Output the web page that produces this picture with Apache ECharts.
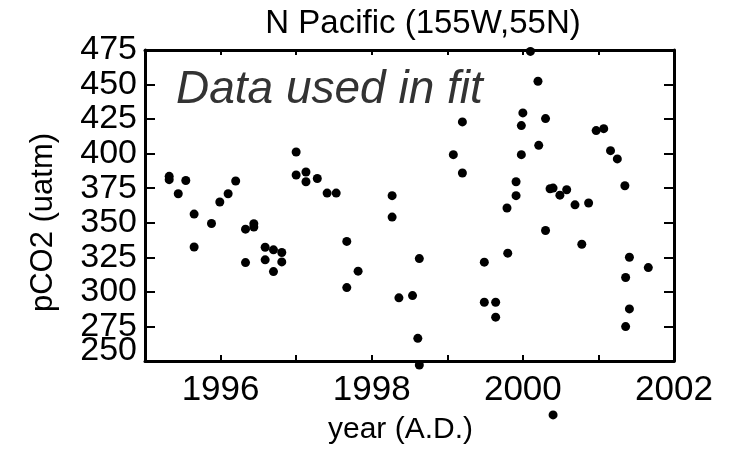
<!DOCTYPE html>
<html>
<head>
<meta charset="utf-8">
<script src="https://cdn.jsdelivr.net/npm/echarts@6/dist/echarts.min.js"></script>
<style>
  html, body { margin: 0; padding: 0; background: #fff; }
  #main { width: 736px; height: 451px; }
</style>
</head>
<body>
<div id="main"></div>
<script>
// sample times (decimal year) and pCO2 values
var years = [
  1995.32, 1995.32, 1995.44, 1995.54, 1995.65, 1995.65, 1995.88, 1995.99, 1996.10, 1996.20,
  1996.33, 1996.33, 1996.44, 1996.44, 1996.59, 1996.59, 1996.70, 1996.70, 1996.81, 1996.81,
  1997.00, 1997.00, 1997.13, 1997.13, 1997.28, 1997.41, 1997.53, 1997.67, 1997.67, 1997.82,
  1998.27, 1998.27, 1998.36, 1998.54, 1998.61, 1998.63, 1998.63, 1999.08, 1999.20, 1999.20,
  1999.49, 1999.49, 1999.64, 1999.64, 1999.79, 1999.80, 1999.91, 1999.91, 1999.98, 1999.98,
  2000.00, 2000.10, 2000.20, 2000.21, 2000.30, 2000.30, 2000.36, 2000.40, 2000.40, 2000.49,
  2000.58, 2000.69, 2000.78, 2000.87, 2000.97, 2001.07, 2001.16, 2001.25, 2001.35, 2001.36,
  2001.36, 2001.41, 2001.41, 2001.66
];
var pco2 = [
  383.6, 381.2, 371.0, 380.6, 356.3, 332.5, 349.5, 365.0, 371.0, 380.2,
  345.4, 321.2, 349.3, 346.9, 332.3, 323.2, 330.4, 314.7, 328.5, 321.7,
  401.2, 384.6, 386.7, 379.7, 382.0, 371.5, 371.5, 336.5, 303.1, 315.0,
  369.6, 354.1, 295.7, 297.3, 266.4, 324.1, 247.1, 399.3, 423.0, 386.0,
  321.5, 292.5, 292.5, 281.7, 360.7, 328.0, 379.7, 369.6, 420.3, 399.3,
  429.5, 474.0, 452.4, 406.0, 425.4, 344.4, 374.6, 375.1, 211.0, 370.0,
  373.9, 363.0, 334.5, 364.3, 416.7, 418.1, 402.2, 396.2, 376.8, 310.4,
  274.9, 325.1, 287.7, 317.6
];
var xTicks = [1996, 1998, 2000, 2002];
var yTicks = [250, 275, 300, 325, 350, 375, 400, 425, 450, 475];

var font = 'Liberation Sans, Arial, sans-serif';
var chart = echarts.init(document.getElementById('main'));

var axisLine = { show: true, onZero: false, lineStyle: { color: '#000', width: 3 } };
var yTick = { inside: true, length: 10, lineStyle: { color: '#000', width: 2 } };

var option = {
  backgroundColor: '#fff',
  animation: false,
  title: [
    {
      text: 'N Pacific (155W,55N)',
      left: 418, top: 2, textAlign: 'center',
      textStyle: { fontFamily: font, fontSize: 33, fontWeight: 'normal', color: '#000' }
    },
    {
      text: 'Data used in fit',
      left: 171, top: 62,
      textStyle: { fontFamily: font, fontSize: 46, fontStyle: 'italic', fontWeight: 'normal', color: '#333' }
    }
  ],
  grid: { left: 145, right: 62, top: 50, bottom: 90 },
  xAxis: [
    {
      type: 'value', min: 1995, max: 2002, interval: 1,
      axisLine: axisLine,
      axisTick: { inside: true, length: 6, lineStyle: { color: '#000', width: 2 } },
      splitLine: { show: false },
      axisLabel: {
        fontFamily: font, fontSize: 35, color: '#000', margin: 12,
        showMinLabel: true, showMaxLabel: true,
        formatter: function (v) { return xTicks.indexOf(v) >= 0 ? String(v) : ''; }
      },
      name: 'year (A.D.)', nameLocation: 'middle', nameGap: 54,
      nameTextStyle: { fontFamily: font, fontSize: 30, color: '#000', padding: [0, 18, 0, 0] }
    },
    {
      type: 'value', min: 1995, max: 2002, interval: 1, position: 'top',
      axisLine: axisLine,
      axisTick: { inside: true, length: 5, lineStyle: { color: '#000', width: 2 } },
      splitLine: { show: false },
      axisLabel: { show: false }
    }
  ],
  yAxis: [
    {
      type: 'value', min: 250, max: 475, interval: 25,
      axisLine: axisLine,
      axisTick: yTick,
      splitLine: { show: false },
      axisLabel: {
        fontFamily: font, fontSize: 34, lineHeight: 28, color: '#000', margin: 8,
        showMinLabel: true, showMaxLabel: true,
        // the bottom label is drawn by the helper axis below, raised a little
        formatter: function (v) {
          return (yTicks.indexOf(v) > 0) ? String(v) : '';
        }
      },
      name: 'pCO2 (uatm)', nameLocation: 'middle', nameGap: 86, nameRotate: 90,
      nameTextStyle: { fontFamily: font, fontSize: 31, color: '#000', padding: [0, 34, 0, 0] }
    },
    {
      type: 'value', min: 250, max: 475, interval: 25, position: 'right',
      axisLine: axisLine,
      axisTick: yTick,
      splitLine: { show: false },
      axisLabel: { show: false }
    },
    {
      type: 'value', min: 250, max: 475, interval: 25, position: 'left', offset: 0,
      axisLine: { show: false },
      axisTick: { show: false },
      splitLine: { show: false },
      axisLabel: {
        fontFamily: font, fontSize: 34, color: '#000', margin: 8,
        showMinLabel: true,
        formatter: function (v) { return v === yTicks[0] ? '{lo|' + v + '}' : ''; },
        rich: { lo: { fontFamily: font, fontSize: 34, lineHeight: 34, color: '#000', padding: [0, 0, 20, 0] } }
      }
    }
  ],
  series: [
    {
      type: 'scatter',
      xAxisIndex: 0, yAxisIndex: 0,
      clip: false,
      symbol: 'circle',
      symbolSize: 9,
      itemStyle: { color: '#000', opacity: 1 },
      data: years.map(function (y, i) { return [y, pco2[i]]; })
    }
  ]
};
chart.setOption(option);
</script>
</body>
</html>
